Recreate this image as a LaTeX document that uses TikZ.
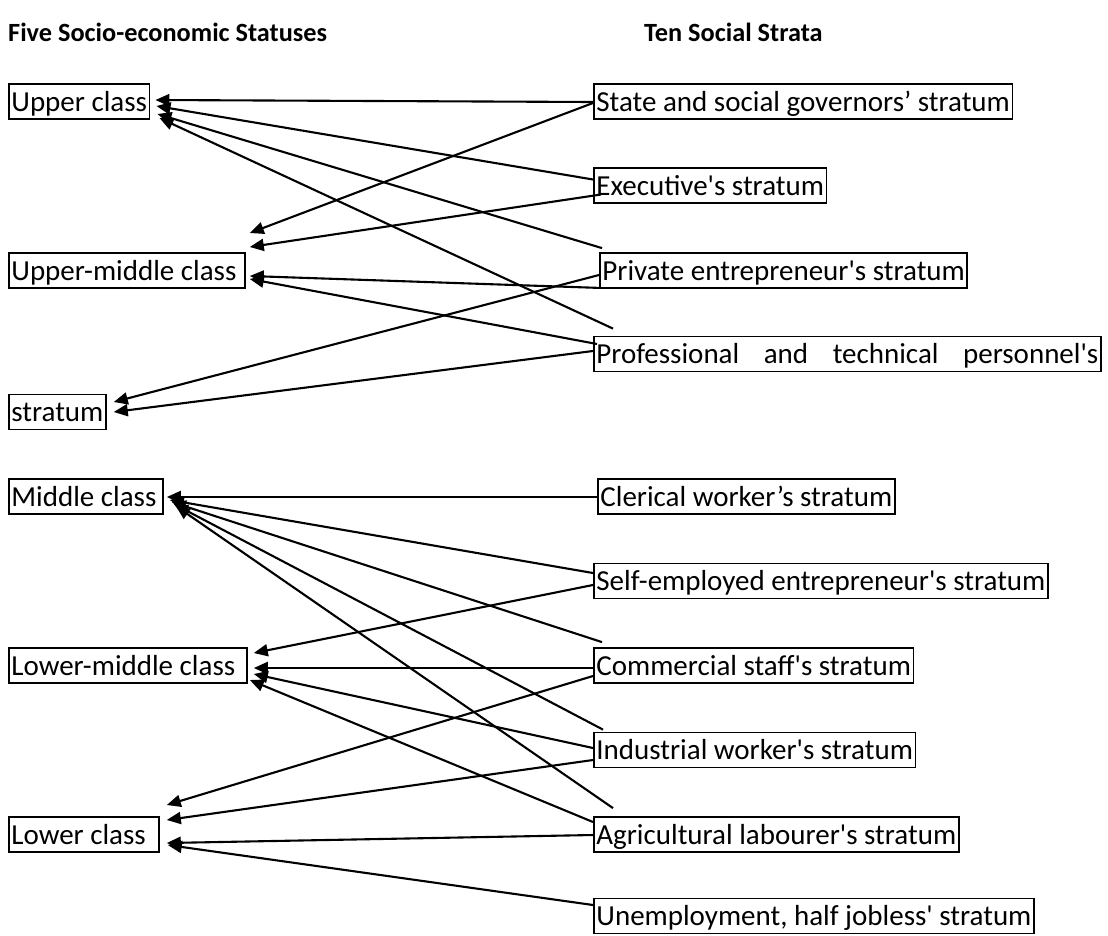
\documentclass[tikz,border=0pt]{standalone}
\usepackage{fontspec}
\setmainfont{Carlito}[Ligatures=TeXOff]
\usepackage{tikz}
\usetikzlibrary{positioning,arrows.meta}

\tikzset{
  stratumbox/.style={draw, line width=1.8pt, anchor=west, inner xsep=2.5pt, inner ysep=0pt,
    text height=27pt, text depth=8pt, font=\fontsize{29}{34}\selectfont, align=flush left},
  heading/.style={anchor=west, inner sep=0pt, font=\fontsize{26.3}{32}\selectfont\bfseries},
  link/.style={line width=2.1pt, -{Triangle[length=14pt,width=12pt]}},
}

\begin{document}
\begin{tikzpicture}[x=1pt, y=-1pt]
  \useasboundingbox (0,0) rectangle (1108,935);

  % Headings
  \node[heading] (hdrstatus) at (8,32)   {Five Socio-economic Statuses};
  \node[heading] (hdrstrata) at (644,32) {Ten Social Strata};

  % Define nodes: statuses
  \node[stratumbox]                                             (upper)       at (8,101.5) {Upper class};
  \node[stratumbox, text width=231pt, below=169pt of upper.west, anchor=west]       (uppermid)    {Upper-middle class};
  \node[stratumbox, below=141.5pt of uppermid.west, anchor=west]                    (stratumcont) {stratum};
  \node[stratumbox, text width=149pt, below=84.5pt of stratumcont.west, anchor=west] (middle)      {Middle class};
  \node[stratumbox, text width=233pt, below=169pt of middle.west, anchor=west]      (lowermid)    {Lower-middle class};
  \node[stratumbox, text width=145pt, below=169pt of lowermid.west, anchor=west]    (lower)       {Lower class};

  % Define nodes: strata
  \node[stratumbox, right=585pt of upper.west]                                  (governors)    {State and social governors’ stratum};
  \node[stratumbox, below right=84pt and 585pt of upper.west, anchor=west]      (executive)    {Executive's stratum};
  \node[stratumbox, right=591pt of uppermid.west]                               (private)      {Private entrepreneur's stratum};
  \node[stratumbox, text width=502pt, below right=83.5pt and 585pt of uppermid.west, anchor=west]
                                                                                (professional) {Professional\hfill and\hfill technical\hfill personnel's};
  \node[stratumbox, right=589pt of middle.west]                                 (clerical)     {Clerical worker’s stratum};
  \node[stratumbox, below right=84.5pt and 585pt of middle.west, anchor=west]   (selfemployed) {Self-employed entrepreneur's stratum};
  \node[stratumbox, right=585pt of lowermid.west]                               (commercial)   {Commercial staff's stratum};
  \node[stratumbox, below right=84.5pt and 585pt of lowermid.west, anchor=west] (industrial)   {Industrial worker's stratum};
  \node[stratumbox, right=585pt of lower.west]                                  (agricultural) {Agricultural labourer's stratum};
  \node[stratumbox, below right=81.5pt and 585pt of lower.west, anchor=west]    (unemployed)   {Unemployment, half jobless' stratum};

  % Connect the nodes: upper class
  \draw[link] ([shift={(0,0.5)}]governors.west)      -- ([shift={(5,-1.5)}]upper.east);
  \draw[link] ([shift={(0,-6)}]executive.west)       -- ([shift={(6,4.5)}]upper.east);
  \draw[link] ([shift={(3,-4)}]private.north west)   -- ([shift={(7,12.5)}]upper.east);
  \draw[link] ([shift={(20,-7)}]professional.north west) -- ([shift={(9,16.5)}]upper.east);

  % upper-middle class
  \draw[link] ([shift={(0,1.5)}]governors.west)      -- ([shift={(4,-37.5)}]uppermid.east);
  \draw[link] ([shift={(8,9)}]executive.west)        -- ([shift={(4,-23.5)}]uppermid.east);
  \draw[link] ([shift={(0,-1)}]private.south west)   -- ([shift={(4,5.5)}]uppermid.east);
  \draw[link] ([shift={(4,-10)}]professional.west)   -- ([shift={(4,8.5)}]uppermid.east);

  % stratum (continued line)
  \draw[link] ([shift={(0,4.5)}]private.west)        -- ([shift={(7,-10)}]stratumcont.east);
  \draw[link] ([shift={(0,-3)}]professional.west)    -- ([shift={(7,0)}]stratumcont.east);

  % middle class
  \draw[link] ([shift={(0,0.5)}]clerical.west)       -- ([shift={(3,0.5)}]middle.east);
  \draw[link] ([shift={(0,-8)}]selfemployed.west)    -- ([shift={(6,3.5)}]middle.east);
  \draw[link] ([shift={(9,-5)}]commercial.north west) -- ([shift={(8,5.5)}]middle.east);
  \draw[link] ([shift={(10,-2)}]industrial.north west) -- ([shift={(10,7.5)}]middle.east);
  \draw[link] ([shift={(20,-8)}]agricultural.north west) -- ([shift={(12,9.5)}]middle.east);

  % lower-middle class
  \draw[link] ([shift={(0,4)}]selfemployed.west)     -- ([shift={(6,-12.5)}]lowermid.east);
  \draw[link] ([shift={(0,2.5)}]commercial.west)     -- ([shift={(6,2.5)}]lowermid.east);
  \draw[link] ([shift={(0,-2)}]industrial.west)      -- ([shift={(6,8.5)}]lowermid.east);
  \draw[link] ([shift={(0,-12.5)}]agricultural.west) -- ([shift={(2,14.5)}]lowermid.east);

  % lower class
  \draw[link] ([shift={(0,10.5)}]commercial.west)    -- ([shift={(7,-29.5)}]lower.east);
  \draw[link] ([shift={(0,10)}]industrial.west)      -- ([shift={(7,-14.5)}]lower.east);
  \draw[link] ([shift={(0,0.5)}]agricultural.west)   -- ([shift={(7,8.5)}]lower.east);
  \draw[link] ([shift={(0,-11)}]unemployed.west)     -- ([shift={(8,10.5)}]lower.east);

\end{tikzpicture}
\end{document}
